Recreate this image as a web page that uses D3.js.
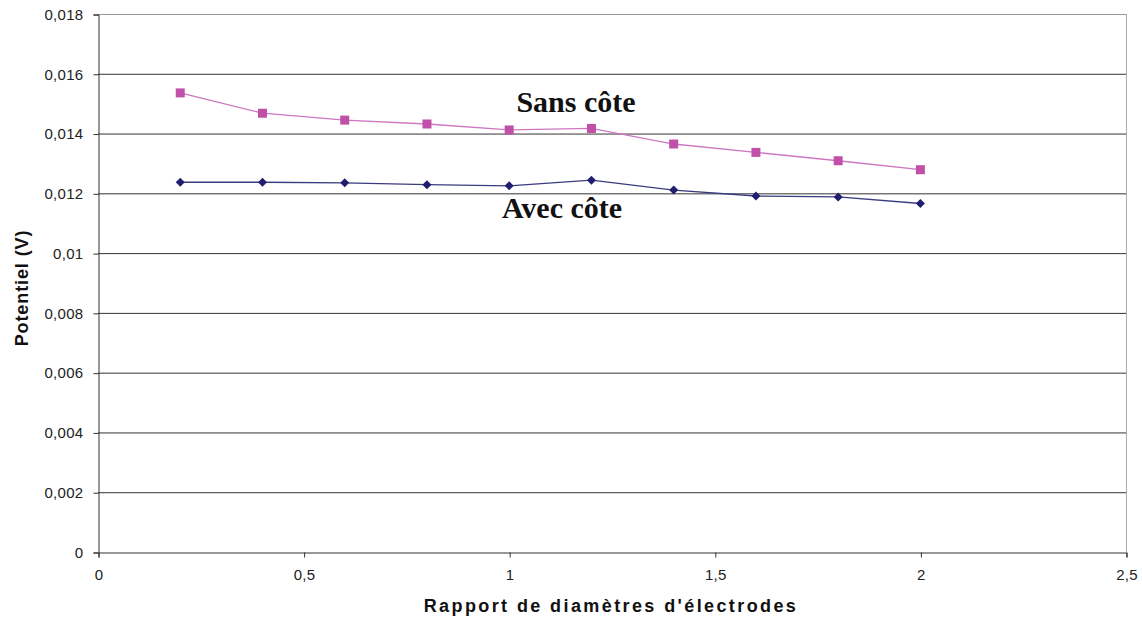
<!DOCTYPE html>
<html><head><meta charset="utf-8">
<script src="https://cdn.jsdelivr.net/npm/d3@7"></script>
<style>body{margin:0;background:#fff;} svg{display:block;}</style>
</head><body>
<svg id="c" width="1142" height="621"></svg>
<script>
const xValues = [0.2,0.4,0.6,0.8,1.0,1.2,1.4,1.6,1.8,2.0];
const sansCote = [0.01536,0.01468,0.01445,0.01432,0.01412,0.01417,0.01365,0.01337,0.01309,0.01279];
const avecCote = [0.01237,0.01237,0.01235,0.01229,0.01225,0.01244,0.01211,0.01191,0.01188,0.01166];
const xTicks = [0,0.5,1,1.5,2,2.5];
const yTicks = [0,0.002,0.004,0.006,0.008,0.010,0.012,0.014,0.016,0.018];
const seriesLabels = ["Sans côte","Avec côte"];

const svg = d3.select("#c");
const L=98, R=1126, T=14, B=552;
const x = d3.scaleLinear().domain([0,2.5]).range([L,R]);
const y = d3.scaleLinear().domain([0,0.018]).range([B,T]);
const fmt = v => (v===0?"0":String(+v.toFixed(3))).replace(".",",");

// gridlines
svg.append("g").selectAll("line").data(yTicks.filter(d=>d>0)).join("line")
  .attr("x1",L).attr("x2",R).attr("y1",d=>y(d)+0.5).attr("y2",d=>y(d)+0.5)
  .attr("stroke",d=>d===0.018?"#999":"#333").attr("stroke-width",1);
// right border
svg.append("line").attr("x1",R+0.5).attr("x2",R+0.5).attr("y1",T).attr("y2",B).attr("stroke","#aaa");

const yAxis = svg.append("g").attr("transform",`translate(${L+0.5},0.5)`)
  .call(d3.axisLeft(y).tickValues(yTicks).tickFormat(fmt).tickSize(5).tickPadding(10));
const xAxis = svg.append("g").attr("transform",`translate(0.5,${B+0.5})`)
  .call(d3.axisBottom(x).tickValues(xTicks).tickFormat(fmt).tickSize(5).tickPadding(12));
[yAxis,xAxis].forEach(a=>{
  a.select(".domain").attr("stroke","#333");
  a.selectAll(".tick line").attr("stroke","#333");
  a.selectAll("text").attr("fill","#222").style("font-family","Liberation Sans, Arial, sans-serif").style("font-size","15px").style("letter-spacing","0.3px");
});

const line = d3.line().x(d=>x(d[0])).y(d=>y(d[1]));
const sData = xValues.map((v,i)=>[v,sansCote[i]]);
const aData = xValues.map((v,i)=>[v,avecCote[i]]);
svg.append("path").datum(sData).attr("d",line).attr("fill","none").attr("stroke","#cc77c0").attr("stroke-width",1.3);
svg.append("path").datum(aData).attr("d",line).attr("fill","none").attr("stroke","#3a3a80").attr("stroke-width",1.3);
svg.append("g").selectAll("rect").data(sData).join("rect")
  .attr("x",d=>x(d[0])-4.5).attr("y",d=>y(d[1])-4.5).attr("width",9).attr("height",9).attr("fill","#c050a8");
svg.append("g").selectAll("path").data(aData).join("path")
  .attr("transform",d=>`translate(${x(d[0])},${y(d[1])})`)
  .attr("d","M0,-4.5L4.5,0L0,4.5L-4.5,0Z").attr("fill","#1f1f6e");

// series labels
svg.append("text").attr("x",576).attr("y",112).attr("text-anchor","middle")
  .style("font-family","Liberation Serif, Times New Roman, serif").style("font-weight","bold").style("font-size","30px")
  .attr("fill","#111").text(seriesLabels[0]);
svg.append("text").attr("x",562).attr("y",218).attr("text-anchor","middle")
  .style("font-family","Liberation Serif, Times New Roman, serif").style("font-weight","bold").style("font-size","30px")
  .attr("fill","#111").text(seriesLabels[1]);

// axis titles
svg.append("text").attr("x",611).attr("y",612).attr("text-anchor","middle")
  .style("font-family","Liberation Sans, Arial, sans-serif").style("font-weight","bold").style("font-size","18px")
  .style("letter-spacing","2.4px").attr("fill","#111").text("Rapport de diamètres d'électrodes");
svg.append("text").attr("transform","translate(28,288) rotate(-90)").attr("text-anchor","middle")
  .style("font-family","Liberation Sans, Arial, sans-serif").style("font-weight","bold").style("font-size","18px")
  .style("letter-spacing","0.9px").attr("fill","#111").text("Potentiel (V)");
</script>
</body></html>
